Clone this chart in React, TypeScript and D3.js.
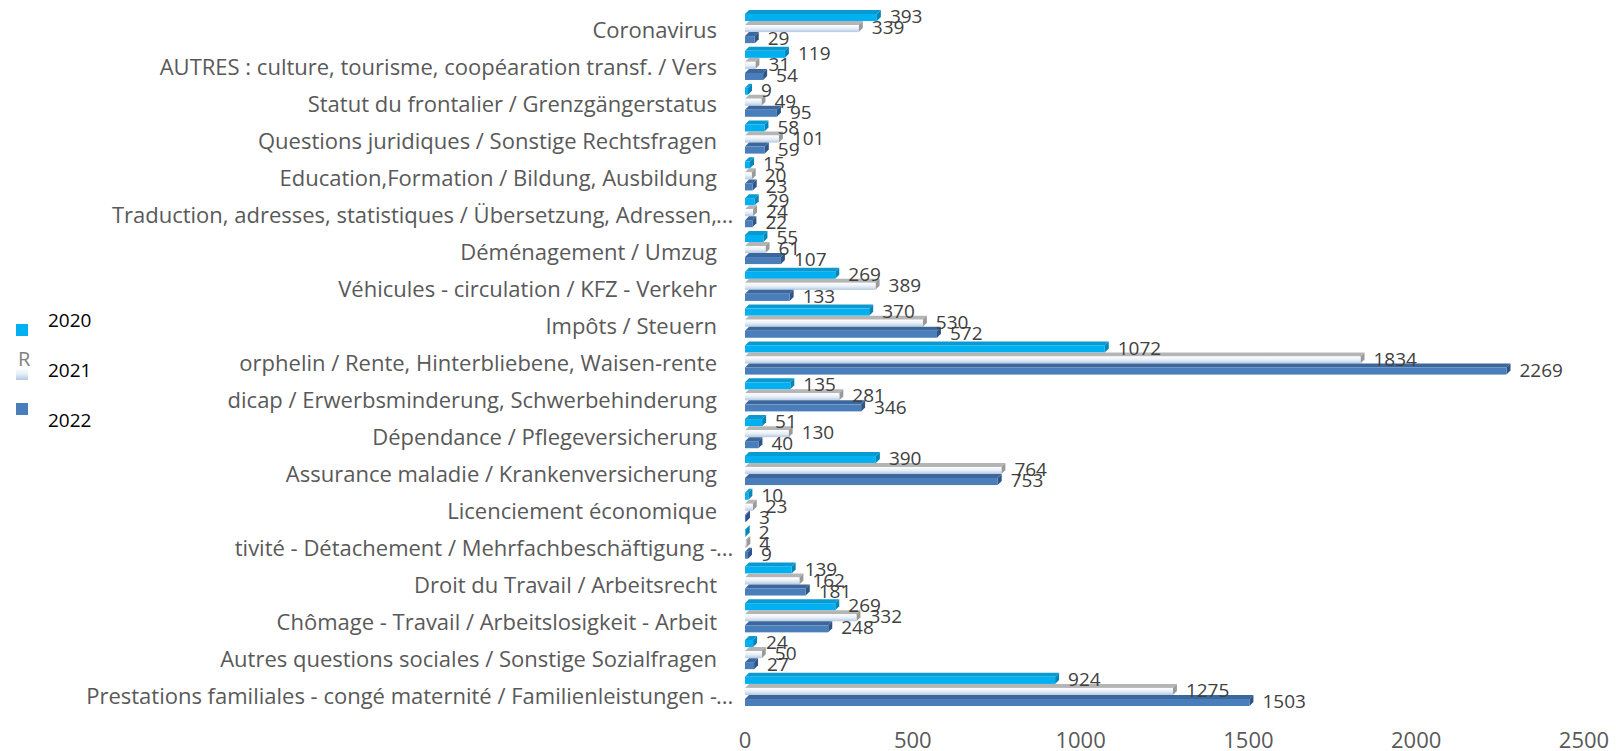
import React from "react";
import * as d3 from "d3";

const categories: string[] = [
  "Coronavirus",
  "AUTRES : culture, tourisme, coopéaration transf. / Vers",
  "Statut du frontalier / Grenzgängerstatus",
  "Questions juridiques / Sonstige Rechtsfragen",
  "Education,Formation / Bildung, Ausbildung",
  "Traduction, adresses, statistiques / Übersetzung, Adressen,...",
  "Déménagement / Umzug",
  "Véhicules - circulation / KFZ - Verkehr",
  "Impôts / Steuern",
  "orphelin / Rente, Hinterbliebene, Waisen-rente",
  "dicap / Erwerbsminderung, Schwerbehinderung",
  "Dépendance / Pflegeversicherung",
  "Assurance maladie / Krankenversicherung",
  "Licenciement économique",
  "tivité - Détachement / Mehrfachbeschäftigung -...",
  "Droit du Travail / Arbeitsrecht",
  "Chômage - Travail / Arbeitslosigkeit - Arbeit",
  "Autres questions sociales / Sonstige Sozialfragen",
  "Prestations familiales - congé maternité / Familienleistungen -...",
];

const values2020: number[] = [393, 119, 9, 58, 15, 29, 55, 269, 370, 1072, 135, 51, 390, 10, 2, 139, 269, 24, 924];
const values2021: number[] = [339, 31, 49, 101, 20, 24, 61, 389, 530, 1834, 281, 130, 764, 23, 4, 162, 332, 50, 1275];
const values2022: number[] = [29, 54, 95, 59, 23, 22, 107, 133, 572, 2269, 346, 40, 753, 3, 9, 181, 248, 27, 1503];

const seriesNames: string[] = ["2020", "2021", "2022"];
const xTicks: number[] = [0, 500, 1000, 1500, 2000, 2500];

const W = 1616;
const H = 751;
const FONT = "'Open Sans', 'Noto Sans', sans-serif";

// front fill, top face, side face
const styles = [
  { fill: "#00B0F0", top: "#0a9ad0", side: "#0586b8" },
  { fill: "url(#g2021)", top: "#b5b5b5", side: "#9a9a9a" },
  { fill: "#4A7EBB", top: "#3b679c", side: "#2e5585" },
];

const App: React.FC = () => {
  const x = d3.scaleLinear().domain([0, 2500]).range([745, 1584]);
  const y = d3
    .scaleBand<string>()
    .domain(categories)
    .range([10, 706])
    .paddingInner(0.1)
    .paddingOuter(0);
  const inner = d3.scaleBand<number>().domain([0, 1, 2]).range([0, y.bandwidth()]);
  const series = [values2020, values2021, values2022];
  const d = 4;

  return (
    <svg width={W} height={H} style={{ position: "absolute", left: 0, top: 0, background: "#fff" }}>
      <defs>
        <linearGradient id="g2021" x1="0" y1="0" x2="0" y2="1">
          <stop offset="0" stopColor="#ffffff" />
          <stop offset="0.5" stopColor="#e6eef7" />
          <stop offset="1" stopColor="#b4c9e3" />
        </linearGradient>
      </defs>

      {/* category labels */}
      {categories.map((c, i) => {
        const cy = (y(c) as number) + y.bandwidth() / 2 + 4 + (i / 18) * 3;
        const ell = c.endsWith("...");
        const txt = ell ? c.slice(0, -3) : c;
        return (
          <g key={c} fontFamily={FONT} fontSize={22} fill="#595959">
            <text x={717} y={cy} dy="0.35em" textAnchor="end">{txt}</text>
            {ell && <text x={716} y={cy} dy="0.35em">...</text>}
          </g>
        );
      })}

      {/* bars */}
      {categories.map((c, i) => (
        <g key={"b" + c}>
          {series.map((vals, s) => {
            const y0 = (y(c) as number) + (inner(s) as number) + d;
            const h = inner.bandwidth() - d;
            const x0 = x(0);
            const x1 = x(vals[i]);
            const st = styles[s];
            return (
              <g key={s}>
                <polygon
                  points={`${x0},${y0} ${x0 + d},${y0 - d} ${x1 + d},${y0 - d} ${x1},${y0}`}
                  fill={st.top}
                />
                <polygon
                  points={`${x1},${y0} ${x1 + d},${y0 - d} ${x1 + d},${y0 + h - d} ${x1},${y0 + h}`}
                  fill={st.side}
                />
                <rect x={x0} y={y0} width={Math.max(0, x1 - x0)} height={h} fill={st.fill} />
              </g>
            );
          })}
        </g>
      ))}

      {/* data labels */}
      {categories.map((c, i) => (
        <g key={"l" + c} fontFamily={FONT} fontSize={19} fill="#404040">
          {series.map((vals, s) => {
            const cy = (y(c) as number) + (inner(s) as number) + inner.bandwidth() / 2 + d / 2 - 1;
            return (
              <text key={s} x={x(vals[i]) + 13} y={cy} dy="0.35em">
                {vals[i]}
              </text>
            );
          })}
        </g>
      ))}

      {/* x axis tick labels */}
      <g fontFamily={FONT} fontSize={22} fill="#595959">
        {xTicks.map((t) => (
          <text key={t} x={x(t)} y={740} dy="0.35em" textAnchor="middle">
            {t}
          </text>
        ))}
      </g>

      {/* legend */}
      <text x={18} y={359} dy="0.35em" fontFamily={FONT} fontSize={20} fill="#7f7f7f">R</text>
      {seriesNames.map((n, s) => {
        const sy = [324, 368, 403][s];
        const ty = [320, 370, 420][s];
        return (
          <g key={n}>
            <rect x={16} y={sy} width={12} height={12} fill={styles[s].fill} />
            <text x={48} y={ty} dy="0.35em" fontFamily={FONT} fontSize={19} fill="#000">
              {n}
            </text>
          </g>
        );
      })}
    </svg>
  );
};

export default App;
